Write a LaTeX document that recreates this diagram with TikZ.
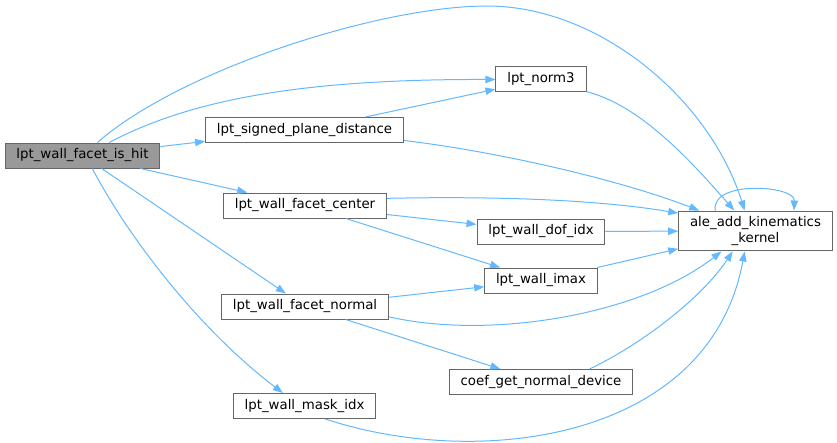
\documentclass[tikz,border=0pt]{standalone}
\usepackage{fontspec}
\setmainfont{DejaVu Sans}
\usetikzlibrary{arrows.meta}
\definecolor{edgeblue}{HTML}{63B8FF}
\definecolor{boxgray}{HTML}{666666}
\definecolor{hitgray}{HTML}{999999}
\tikzset{%
  font=\fontsize{10}{12}\selectfont,>={Triangle[length=7.5pt,width=5.5pt]},
  fn/.style={draw=boxgray,line width=.75pt,rectangle,inner xsep=8.5pt,inner ysep=4pt,%
    minimum height=18.75pt,align=center,fill=white},
  call/.style={draw=edgeblue,line width=.75pt,->}
}
\begin{document}
\begin{tikzpicture}[x=.75pt,y=-.75pt]
	\useasboundingbox (0,0) rectangle (837,442);
	% functions
	\node[fn,fill=hitgray] (hit) at (82.5,155.5) {lpt\_wall\_facet\_is\_hit};
	\node[fn] (plane) at (304.5,130) {lpt\_signed\_plane\_distance};
	\node[fn] (center) at (305,205.5) {lpt\_wall\_facet\_center};
	\node[fn] (normal) at (305,306.5) {lpt\_wall\_facet\_normal};
	\node[fn] (mask) at (304.5,406) {lpt\_wall\_mask\_idx};
	\node[fn] (norm) at (541,79.5) {lpt\_norm3};
	\node[fn] (dof) at (541,231.5) {lpt\_wall\_dof\_idx};
	\node[fn] (imax) at (541,280.5) {lpt\_wall\_imax};
	\node[fn] (coef) at (541,382) {coef\_get\_normal\_device};
	\node[fn] (kernel) at (755.5,231) {ale\_add\_kinematics\\\_kernel};

	% calls
	\draw[call] (hit.41) .. controls (180,70) and (380,6) .. (487,6)
		.. controls (600,6) and (710,100) .. (kernel.118);
	\draw[call] (hit.26) .. controls (190,100) and (300,79) .. (norm.west);
	\draw[call] (hit) -- (plane);
	\draw[call] (hit) -- (center);
	\draw[call] (hit) -- (normal);
	\draw[call] (hit.-53) .. controls (130,240) and (200,330) .. (mask.149);
	\draw[call] (plane) -- (norm);
	\draw[call] (plane.-6) .. controls (500,152) and (620,180) .. (kernel.160);
	\draw[call] (norm.-15) .. controls (640,105) and (690,160) .. (kernel.136);
	\draw[call] (center.5) .. controls (500,196) and (600,200) .. (kernel.167);
	\draw[call] (center) -- (dof);
	\draw[call] (center) -- (imax);
	\draw[call] (dof) -- (kernel);
	\draw[call] (imax) -- (kernel);
	\draw[call] (normal) -- (imax);
	\draw[call] (normal.-7) .. controls (490,340) and (640,315) .. (kernel.211);
	\draw[call] (normal) -- (coef);
	\draw[call] (coef.15) .. controls (640,345) and (700,300) .. (kernel.222);
	\draw[call] (mask.-32) .. controls (480,470) and (710,440) .. (kernel.242);
	\draw[call] (kernel.153) .. controls (710,180) and (795,185) .. (kernel.28);
\end{tikzpicture}
\end{document}
